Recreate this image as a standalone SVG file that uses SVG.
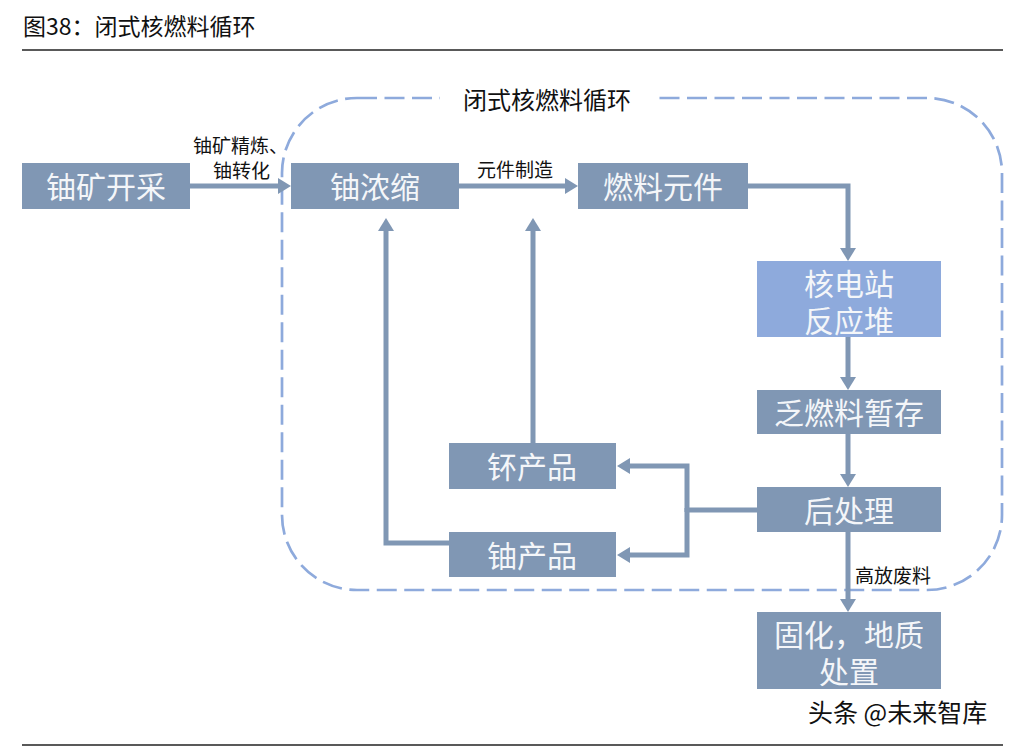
<svg xmlns="http://www.w3.org/2000/svg" width="1016" height="746" viewBox="0 0 1016 746">
<defs>
<style>
.box{fill:#8097b4}
.hi{fill:#8eaadc}
.bt{font-family:"Noto Sans CJK SC","Noto Sans",sans-serif;font-size:30px;fill:#f4f6f9;text-anchor:middle}
.lb{font-family:"Noto Sans CJK SC","Noto Sans",sans-serif;font-size:19px;fill:#111}
.cn{fill:none;stroke:#8097b4;stroke-width:5;marker-end:url(#ah)}
.cn2{fill:none;stroke:#8097b4;stroke-width:5}
</style>
<marker id="ah" markerUnits="userSpaceOnUse" markerWidth="14" markerHeight="16" refX="0" refY="8" orient="auto" overflow="visible">
<path d="M0,0 L13,8 L0,16 z" fill="#8097b4"/>
</marker>
</defs>
<rect width="1016" height="746" fill="#ffffff"/>
<text x="23" y="35" font-family="'Noto Sans CJK SC','Noto Sans',sans-serif" font-size="23" fill="#111">图38：闭式核燃料循环</text>
<line x1="22" y1="50" x2="1003" y2="50" stroke="#222" stroke-width="1.5"/>
<line x1="22" y1="745" x2="1003" y2="745" stroke="#222" stroke-width="1.5"/>
<g id="cycle-boundary">
<rect x="282" y="98" width="720" height="492" rx="75" ry="75" fill="none" stroke="#8eaadc" stroke-width="2.7" stroke-dasharray="20 7.5"/>
<rect x="440" y="80" width="213" height="38" fill="#ffffff"/>
<text x="547" y="109" font-family="'Noto Sans CJK SC','Noto Sans',sans-serif" font-size="24" fill="#111" text-anchor="middle">闭式核燃料循环</text>
</g>
<g id="connectors">
<path class="cn" d="M190,186 H278"/>
<path class="cn" d="M459,186 H565"/>
<path class="cn" d="M748,186 H848 V248"/>
<path class="cn" d="M848,337 V377"/>
<path class="cn" d="M848,434 V474"/>
<path class="cn" d="M848,532 V599"/>
<path class="cn2" d="M757,510 H687"/>
<path class="cn" d="M687,512 V466 H630"/>
<path class="cn" d="M687,508 V555 H630"/>
<path class="cn" d="M533,443 V231"/>
<path class="cn" d="M449,543 H386 V231"/>
<text class="lb" x="193" y="153">铀矿精炼、</text>
<text class="lb" x="213" y="178">铀转化</text>
<text class="lb" x="515" y="177" text-anchor="middle">元件制造</text>
<text class="lb" x="855" y="583">高放废料</text>
</g>
<g id="n-mining"><rect class="box" x="22" y="163" width="168" height="46"/><text class="bt" x="106" y="198">铀矿开采</text></g>
<g id="n-enrich"><rect class="box" x="291" y="163" width="168" height="46"/><text class="bt" x="375" y="198">铀浓缩</text></g>
<g id="n-fuel"><rect class="box" x="578" y="163" width="170" height="46"/><text class="bt" x="663" y="198">燃料元件</text></g>
<g id="n-reactor"><rect class="hi" x="757" y="261" width="184" height="76"/><text class="bt"><tspan x="849" y="295">核电站</tspan><tspan x="849" y="332">反应堆</tspan></text></g>
<g id="n-storage"><rect class="box" x="757" y="390" width="184" height="44"/><text class="bt" x="849" y="424">乏燃料暂存</text></g>
<g id="n-reprocess"><rect class="box" x="757" y="487" width="184" height="45"/><text class="bt" x="849" y="522">后处理</text></g>
<g id="n-disposal"><rect class="box" x="757" y="612" width="184" height="77"/><text class="bt"><tspan x="849" y="646">固化，地质</tspan><tspan x="849" y="683">处置</tspan></text></g>
<g id="n-pu"><rect class="box" x="449" y="443" width="167" height="46"/><text class="bt" x="532" y="478">钚产品</text></g>
<g id="n-u"><rect class="box" x="449" y="532" width="167" height="45"/><text class="bt" x="532" y="567">铀产品</text></g>
<text x="808" y="722" font-family="'Noto Sans CJK SC','Noto Sans',sans-serif" font-size="25" fill="#111">头条 @未来智库</text>
</svg>
